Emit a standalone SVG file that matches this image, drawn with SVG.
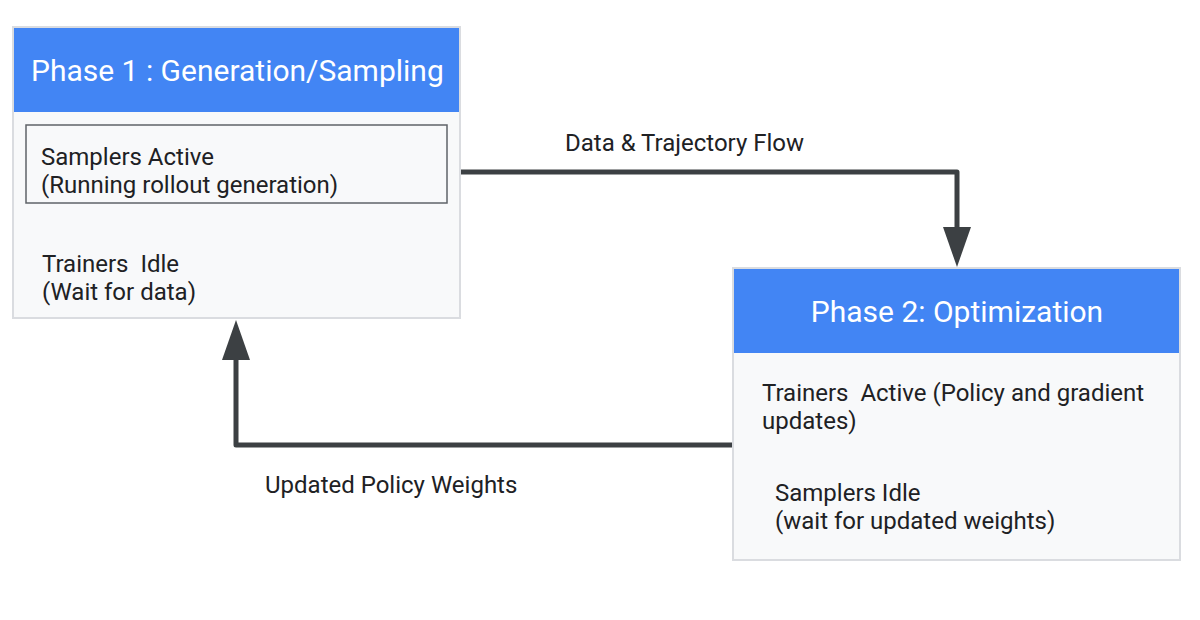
<svg xmlns="http://www.w3.org/2000/svg" width="1200" height="620" viewBox="0 0 1200 620">
<defs>
<style>
.box{fill:#f8f9fa;stroke:#dadce0;stroke-width:2}
.hdr{fill:#4285f4}
.ht{font-family:Roboto,"Liberation Sans",sans-serif;font-size:30px;fill:#ffffff}
.t{font-family:Roboto,"Liberation Sans",sans-serif;font-size:24px;fill:#202124}
.inner{fill:none;stroke:#5f6368;stroke-width:1.5}
.conn{fill:none;stroke:#3c4043;stroke-width:5;stroke-linejoin:round}
.ah{fill:#3c4043}
</style>
</defs>
<rect width="1200" height="620" fill="#ffffff"/>
<g id="connectors">
<path class="conn" d="M460 172 H957 V230"/>
<polygon class="ah" points="943,227 971,227 957,267"/>
<path class="conn" d="M733 445 H236 V355"/>
<polygon class="ah" points="222,360 250,360 236,320"/>
<text class="t" x="565" y="151">Data &amp; Trajectory Flow</text>
<text class="t" x="265" y="493">Updated Policy Weights</text>
</g>
<g id="phase1">
<rect class="box" x="13" y="27" width="447" height="291"/>
<rect class="hdr" x="14" y="28" width="445" height="84"/>
<text class="ht" x="31" y="81">Phase 1 : Generation/Sampling</text>
<rect class="inner" x="26" y="125" width="421" height="78"/>
<text class="t" x="41" y="165">Samplers Active</text>
<text class="t" x="41" y="193">(Running rollout generation)</text>
<text class="t" x="42" y="272" xml:space="preserve">Trainers  Idle</text>
<text class="t" x="42" y="300">(Wait for data)</text>
</g>
<g id="phase2">
<rect class="box" x="733" y="268" width="447" height="292"/>
<rect class="hdr" x="734" y="269" width="445" height="84"/>
<text class="ht" x="957" y="322" text-anchor="middle">Phase 2: Optimization</text>
<text class="t" x="762" y="401" xml:space="preserve">Trainers  Active (Policy and gradient</text>
<text class="t" x="762" y="429">updates)</text>
<text class="t" x="775" y="501">Samplers Idle</text>
<text class="t" x="775" y="529">(wait for updated weights)</text>
</g>
</svg>
